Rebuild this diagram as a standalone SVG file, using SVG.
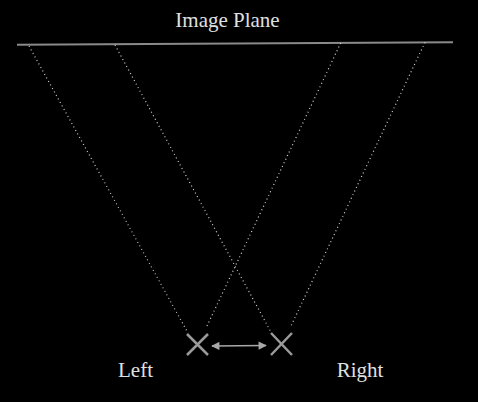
<svg xmlns="http://www.w3.org/2000/svg" width="478" height="402" viewBox="0 0 478 402">
<defs>
<style>
.lbl{font-family:"Liberation Serif","DejaVu Serif",serif;font-size:21px;fill:#e0e0e0;text-anchor:middle}
.ray{stroke:#cfcfcf;stroke-width:1.2;stroke-dasharray:1 3;fill:none}
.cam{stroke:#9a9a9a;stroke-width:2.5;fill:none}
</style>
<marker id="ah" viewBox="0 0 10 10" refX="9" refY="5" markerWidth="6.5" markerHeight="5.5" orient="auto-start-reverse">
<path d="M0,0 L10,5 L0,10 z" fill="#a8a8a8"/>
</marker>
</defs>
<rect width="478" height="402" fill="#000"/>
<g id="image-plane">
<line x1="17" y1="44.7" x2="453" y2="42.2" stroke="#8a8a8a" stroke-width="2"/>
<text class="lbl" x="227.5" y="27">Image Plane</text>
</g>
<g id="connectors">
<line class="ray" x1="29" y1="46" x2="188" y2="333"/>
<line class="ray" x1="340.7" y1="43" x2="207" y2="326"/>
<line class="ray" x1="115" y1="45" x2="272" y2="334"/>
<line class="ray" x1="425" y1="42.3" x2="291" y2="326"/>
<line x1="212" y1="346" x2="266" y2="345.5" stroke="#a8a8a8" stroke-width="1.5" marker-start="url(#ah)" marker-end="url(#ah)"/>
</g>
<g id="left">
<path class="cam" d="M187,334 L208,355 M208,334 L187,355"/>
<text class="lbl" x="135.5" y="377">Left</text>
</g>
<g id="right">
<path class="cam" d="M271,333 L292,355 M292,333 L271,355"/>
<text class="lbl" x="360" y="377">Right</text>
</g>
</svg>
